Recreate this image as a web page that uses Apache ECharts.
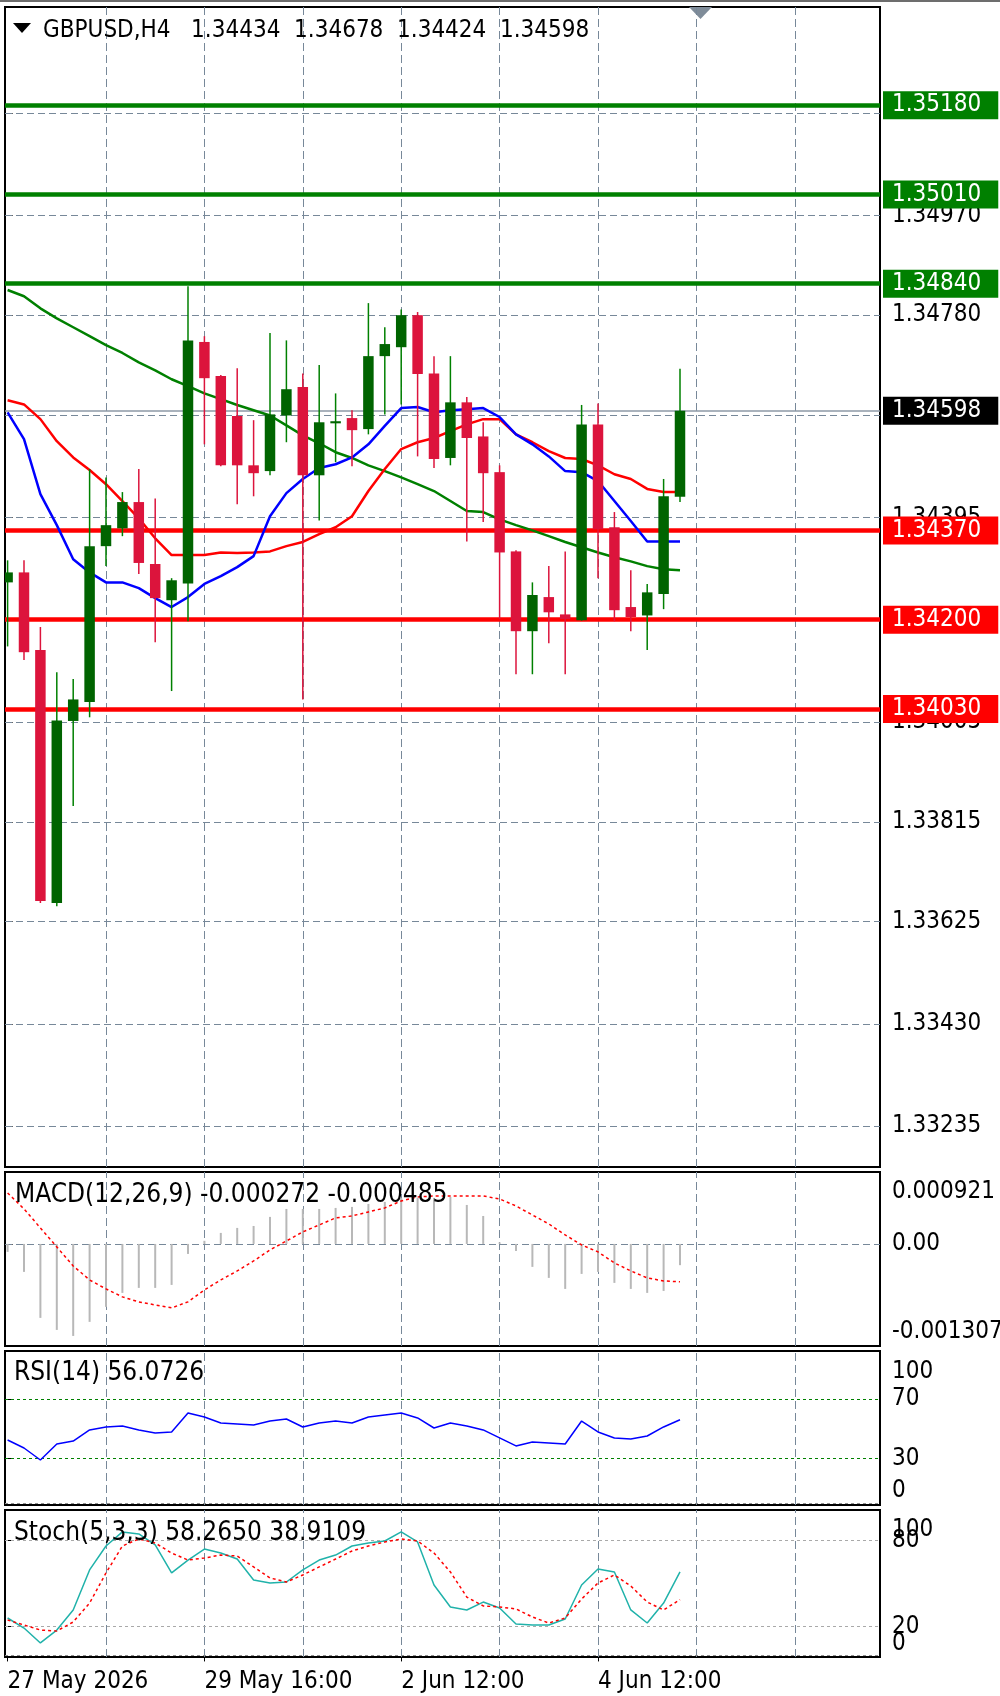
<!DOCTYPE html>
<html>
<head>
<meta charset="utf-8">
<title>GBPUSD,H4</title>
<script src="https://cdn.jsdelivr.net/npm/echarts@6.0.0/dist/echarts.min.js"></script>
<style>
  html, body { margin: 0; padding: 0; background: #fff; }
  #chart { width: 1000px; height: 1696px; }
</style>
</head>
<body>
<div id="chart"></div>
<script>
const FONT = "'DejaVu Sans Condensed', 'Liberation Sans', sans-serif";

// H4 bars, index 0 = 27 May 2026 16:00
const opens  = [1.34271, 1.34290, 1.34142, 1.33660, 1.34007, 1.34043, 1.34340, 1.34374, 1.34424, 1.34306,
                1.34237, 1.34269, 1.34729, 1.34664, 1.34588, 1.34494, 1.34483, 1.34589, 1.34643, 1.34475,
                1.34574, 1.34584, 1.34563, 1.34702, 1.34719, 1.34780, 1.34669, 1.34508, 1.34614, 1.34549,
                1.34481, 1.34330, 1.34178, 1.34243, 1.34210, 1.34199, 1.34572, 1.34376, 1.34224, 1.34208,
                1.34249, 1.34434];
const highs  = [1.34313, 1.34313, 1.34186, 1.34100, 1.34087, 1.34487, 1.34471, 1.34443, 1.34487, 1.34431,
                1.34279, 1.34835, 1.34740, 1.34666, 1.34679, 1.34580, 1.34746, 1.34732, 1.34669, 1.34685,
                1.34631, 1.34599, 1.34803, 1.34757, 1.34791, 1.34786, 1.34702, 1.34702, 1.34624, 1.34576,
                1.34494, 1.34332, 1.34271, 1.34302, 1.34330, 1.34609, 1.34612, 1.34405, 1.34294, 1.34268,
                1.34468, 1.34678];
const lows   = [1.34149, 1.34123, 1.33660, 1.33654, 1.33845, 1.34014, 1.34302, 1.34359, 1.34287, 1.34157,
                1.34064, 1.34197, 1.34534, 1.34492, 1.34420, 1.34435, 1.34475, 1.34538, 1.34048, 1.34389,
                1.34500, 1.34492, 1.34553, 1.34591, 1.34610, 1.34511, 1.34489, 1.34494, 1.34349, 1.34386,
                1.34201, 1.34096, 1.34096, 1.34155, 1.34096, 1.34198, 1.34279, 1.34197, 1.34178, 1.34142,
                1.34220, 1.34424];
const closes = [1.34290, 1.34138, 1.33664, 1.34008, 1.34048, 1.34340, 1.34380, 1.34424, 1.34308, 1.34241,
                1.34275, 1.34732, 1.34660, 1.34494, 1.34494, 1.34479, 1.34591, 1.34639, 1.34475, 1.34576,
                1.34578, 1.34561, 1.34702, 1.34725, 1.34780, 1.34668, 1.34506, 1.34614, 1.34546, 1.34479,
                1.34328, 1.34178, 1.34247, 1.34214, 1.34201, 1.34572, 1.34372, 1.34218, 1.34205, 1.34252,
                1.34435, 1.34598];

// moving averages on the price chart
const maFast = [1.34595, 1.34544, 1.34439, 1.34380, 1.34315, 1.34290, 1.34271, 1.34271, 1.34260, 1.34241,
                1.34224, 1.34243, 1.34268, 1.34283, 1.34300, 1.34321, 1.34397, 1.34441, 1.34468, 1.34489,
                1.34496, 1.34509, 1.34534, 1.34569, 1.34603, 1.34605, 1.34595, 1.34599, 1.34601, 1.34603,
                1.34586, 1.34553, 1.34534, 1.34511, 1.34483, 1.34481, 1.34464, 1.34426, 1.34388, 1.34349,
                1.34349, 1.34349];
const maMid  = [1.34618, 1.34610, 1.34582, 1.34540, 1.34509, 1.34485, 1.34458, 1.34426, 1.34393, 1.34355,
                1.34323, 1.34323, 1.34323, 1.34328, 1.34327, 1.34328, 1.34330, 1.34340, 1.34348, 1.34363,
                1.34376, 1.34397, 1.34445, 1.34487, 1.34525, 1.34538, 1.34546, 1.34559, 1.34572, 1.34582,
                1.34582, 1.34553, 1.34538, 1.34521, 1.34508, 1.34506, 1.34494, 1.34477, 1.34468, 1.34449,
                1.34443, 1.34443];
const maSlow = [1.34828, 1.34816, 1.34793, 1.34774, 1.34757, 1.34740, 1.34723, 1.34708, 1.34690, 1.34675,
                1.34658, 1.34645, 1.34631, 1.34620, 1.34609, 1.34599, 1.34589, 1.34570, 1.34551, 1.34536,
                1.34519, 1.34508, 1.34494, 1.34483, 1.34471, 1.34458, 1.34445, 1.34426, 1.34407, 1.34405,
                1.34391, 1.34380, 1.34370, 1.34359, 1.34348, 1.34338, 1.34328, 1.34319, 1.34311, 1.34302,
                1.34296, 1.34294];

const macdHist   = [-0.000102, -0.000358, -0.000947, -0.001101, -0.001178, -0.000998, -0.000806, -0.000627, -0.000563, -0.000563,
                    -0.000525, -0.000128, 0.000040, 0.000141, 0.000205, 0.000230, 0.000346, 0.000448, 0.000448, 0.000448,
                    0.000461, 0.000474, 0.000512, 0.000538, 0.000589, 0.000589, 0.000589, 0.000602, 0.000499, 0.000358,
                    0.000020, -0.000090, -0.000294, -0.000435, -0.000576, -0.000384, -0.000358, -0.000499, -0.000576, -0.000627,
                    -0.000602, -0.000272];
const macdSignal = [0.000653, 0.000448, 0.000205, -0.000038, -0.000282, -0.000461, -0.000576, -0.000678, -0.000742, -0.000781,
                    -0.000819, -0.000742, -0.000589, -0.000461, -0.000346, -0.000218, -0.000077, 0.000038, 0.000154, 0.000243,
                    0.000333, 0.000358, 0.000410, 0.000461, 0.000550, 0.000602, 0.000614, 0.000614, 0.000614, 0.000614,
                    0.000576, 0.000486, 0.000371, 0.000256, 0.000115, -0.000013, -0.000102, -0.000243, -0.000346, -0.000435,
                    -0.000474, -0.000485];
const rsiValues  = [42.4, 37.0, 28.9, 39.7, 41.7, 49.2, 51.2, 51.9, 49.2, 47.1,
                    47.8, 60.6, 57.9, 53.9, 53.2, 52.5, 55.2, 56.6, 51.2, 53.9,
                    55.2, 53.9, 57.9, 59.3, 60.6, 57.3, 50.5, 53.9, 51.9, 49.2,
                    43.8, 38.4, 41.1, 40.4, 39.7, 55.2, 47.8, 43.8, 43.1, 45.1,
                    51.2, 56.0726];
const stochMain   = [26.1, 19.1, 8.7, 17.7, 31.7, 59.6, 76.3, 86.1, 84.7, 77.0,
                     57.5, 66.5, 74.2, 71.4, 67.2, 52.6, 50.5, 51.2, 59.6, 66.5,
                     70.0, 76.3, 78.4, 79.8, 86.1, 79.1, 49.1, 33.8, 31.7, 37.2,
                     33.1, 21.9, 21.2, 21.2, 25.4, 49.1, 60.3, 58.2, 31.7, 22.6,
                     36.5, 58.265];
const stochSignal = [24.7, 21.2, 17.7, 17.0, 23.3, 36.5, 57.5, 76.3, 81.2, 78.4,
                     71.4, 66.5, 67.9, 70.0, 69.3, 61.7, 54.0, 51.2, 56.1, 61.7,
                     67.2, 72.8, 76.3, 79.1, 81.2, 79.8, 71.4, 58.2, 40.7, 34.5,
                     33.8, 32.4, 26.8, 22.6, 26.1, 39.3, 50.5, 56.1, 48.4, 37.2,
                     31.7, 38.9109];

const resistanceLevels = [1.35180, 1.35010, 1.34840];
const supportLevels    = [1.34370, 1.34200, 1.34030];
const lastPrice = 1.34598;

const priceTicks = [1.35165, 1.34970, 1.34780, 1.34590, 1.34395, 1.34200, 1.34005, 1.33815, 1.33625, 1.33430, 1.33235];
const macdTicks  = { mid: [0], top: [0.000921], bottom: [-0.001307] };
const rsiTicks   = { mid: [70, 30], top: [100], bottom: [0] };
const stochTicks = { mid: [80, 20], top: [100], bottom: [0] };
const dayLines   = [6, 12, 18, 24, 30, 36, 42, 48];
const timeTicks  = [0, 12, 24, 36];
const timeLabels = ['27 May 2026', '29 May 16:00', '2 Jun 12:00', '4 Jun 12:00'];

const X_MIN = -0.1585, X_MAX = 53.195;
const GRID_COLOR = '#778899';
const last = arr => arr[arr.length - 1];
const pairs = arr => arr.map((v, i) => [i, v]);

const chart = echarts.init(document.getElementById('chart'), null, { renderer: 'canvas' });

const gridBase = { left: 5, width: 875, show: true, borderColor: '#000', borderWidth: 2,
  backgroundColor: '#fff', containLabel: false, outerBoundsMode: 'none' };

const textBase = { color: '#000', fontSize: 24, fontFamily: FONT, fontWeight: 'normal' };
const subTitleText = Object.assign({}, textBase, { fontSize: 26 });

function xAxisFor(g, extra) {
  return Object.assign({ type: 'value', gridIndex: g, min: X_MIN, max: X_MAX, show: false,
    splitLine: { show: false } }, extra || {});
}

// three overlapping axes per sub window: centred labels, a top-aligned max label, a bottom-aligned min label
function panelAxes(g, min, max, ticks, fmt, padTop, padBottom) {
  const base = { type: 'value', gridIndex: g, position: 'right', min: min, max: max,
    axisLine: { show: false }, splitLine: { show: false } };
  return [
    Object.assign({}, base, {
      axisTick: { show: true, customValues: ticks.mid, length: 5, lineStyle: { color: '#000' } },
      axisLabel: Object.assign({ customValues: ticks.mid, formatter: fmt, margin: 12, padding: [4, 0, 0, 0] }, textBase)
    }),
    Object.assign({}, base, {
      axisTick: { show: false },
      axisLabel: Object.assign({ customValues: ticks.top, formatter: fmt, margin: 12,
        verticalAlign: 'top', padding: [padTop, 0, 0, 0] }, textBase)
    }),
    Object.assign({}, base, {
      axisTick: { show: false },
      axisLabel: Object.assign({ customValues: ticks.bottom, formatter: fmt, margin: 12,
        verticalAlign: 'bottom', padding: [0, 0, padBottom, 0] }, textBase)
    })
  ];
}

function gridLines(xi, yi, extra) {
  const vertical = dayLines.map(x => ({ xAxis: x }));
  return {
    type: 'line', xAxisIndex: xi, yAxisIndex: yi, data: [], silent: true,
    markLine: {
      silent: true, z: 1, precision: 6, symbol: ['none', 'none'], label: { show: false },
      lineStyle: { color: GRID_COLOR, type: [8, 4], width: 1 },
      emphasis: { disabled: true },
      data: vertical.concat(extra || [])
    }
  };
}

function renderCandle(params, api) {
  const i = api.value(0);
  const open = api.value(1), close = api.value(2);
  const lo = api.coord([i, api.value(3)]);
  const hi = api.coord([i, api.value(4)]);
  const po = api.coord([i, open]);
  const pc = api.coord([i, close]);
  const bodyW = api.size([1, 0])[0] * 0.64;
  const up = close >= open;
  const top = Math.min(po[1], pc[1]);
  const h = Math.max(Math.abs(po[1] - pc[1]), 1.5);
  return {
    type: 'group',
    children: [
      { type: 'line', shape: { x1: hi[0], y1: hi[1], x2: lo[0], y2: lo[1] },
        style: { stroke: up ? '#008000' : '#dc143c', lineWidth: 1.5 } },
      { type: 'rect', shape: { x: po[0] - bodyW / 2, y: top, width: bodyW, height: h },
        style: { fill: up ? '#006400' : '#dc143c' } }
    ]
  };
}

const levelData = resistanceLevels.map(v => ({ yAxis: v, lineStyle: { color: '#008000', width: 4.5 }, label: { backgroundColor: '#008000' } }))
  .concat(supportLevels.map(v => ({ yAxis: v, lineStyle: { color: '#ff0000', width: 4.5 }, label: { backgroundColor: '#ff0000' } })))
  .concat([{ yAxis: lastPrice, lineStyle: { color: '#8d99a6', width: 1.5 }, label: { backgroundColor: '#000' } }]);

const dashed = (value, color, type) => ({ yAxis: value, lineStyle: { color: color, type: type } });

const option = {
  animation: false,
  backgroundColor: '#fff',
  textStyle: { fontFamily: FONT },
  title: [
    { text: 'GBPUSD,H4   ' + [last(opens), last(highs), last(lows), last(closes)].map(v => v.toFixed(5)).join('  '),
      left: 43, top: 19, padding: 0, textStyle: textBase },
    { text: 'MACD(12,26,9) ' + last(macdHist).toFixed(6) + ' ' + last(macdSignal).toFixed(6),
      left: 15, top: 1182, padding: 0, textStyle: subTitleText },
    { text: 'RSI(14) ' + last(rsiValues).toFixed(4), left: 14, top: 1360, padding: 0, textStyle: subTitleText },
    { text: 'Stoch(5,3,3) ' + last(stochMain).toFixed(4) + ' ' + last(stochSignal).toFixed(4),
      left: 14, top: 1520, padding: 0, textStyle: subTitleText }
  ],
  graphic: [
    { type: 'rect', left: 0, top: 0, shape: { width: 1000, height: 2 }, style: { fill: '#6d6d6d' }, silent: true },
    { type: 'polygon', shape: { points: [[13, 23], [31, 23], [22, 33]] }, style: { fill: '#000' }, silent: true },
    { type: 'polygon', shape: { points: [[689, 7], [712, 7], [700.5, 19]] }, style: { fill: '#7f8c99' }, silent: true }
  ],
  grid: [
    Object.assign({ top: 7, height: 1160 }, gridBase),
    Object.assign({ top: 1172, height: 174 }, gridBase),
    Object.assign({ top: 1351, height: 154 }, gridBase),
    Object.assign({ top: 1510, height: 147 }, gridBase)
  ],
  xAxis: [
    xAxisFor(0), xAxisFor(1), xAxisFor(2),
    xAxisFor(3, {
      show: true,
      axisLine: { show: false },
      axisTick: { show: true, customValues: timeTicks, length: 6, lineStyle: { color: '#000' } },
      axisLabel: Object.assign({ customValues: timeTicks, align: 'left', margin: 13,
        formatter: v => timeLabels[timeTicks.indexOf(v)] }, textBase)
    })
  ],
  yAxis: [
    {
      type: 'value', gridIndex: 0, position: 'right', min: 1.331573, max: 1.353671,
      axisLine: { show: false }, splitLine: { show: false },
      axisTick: { show: true, customValues: priceTicks, length: 5, lineStyle: { color: '#000' } },
      axisLabel: Object.assign({ customValues: priceTicks, formatter: v => v.toFixed(5), margin: 12,
        padding: [4, 0, 0, 0] }, textBase)
    }
  ].concat(
    panelAxes(1, -0.001307, 0.000921, macdTicks, v => (v === 0 ? '0.00' : v.toFixed(6)), 8, 2),
    panelAxes(2, -1.5, 102.5, rsiTicks, v => String(v), 5, 0),
    panelAxes(3, -1.1, 101.4, stochTicks, v => String(v), 6, 0)
  ),
  series: [
    gridLines(0, 0, priceTicks.map(v => ({ yAxis: v, lineStyle: { type: [7, 4] } }))),
    {
      type: 'line', xAxisIndex: 0, yAxisIndex: 0, data: [], silent: true,
      markLine: {
        silent: true, z: 2, precision: 6, symbol: ['none', 'none'],
        emphasis: { disabled: true },
        lineStyle: { type: 'solid' },
        label: Object.assign({ show: true, position: 'end', distance: 3,
          formatter: p => Number(p.value).toFixed(5), padding: [3, 17, 1, 9] }, textBase, { color: '#fff' }),
        data: levelData
      }
    },
    { name: 'MA slow', type: 'line', xAxisIndex: 0, yAxisIndex: 0, z: 3, data: pairs(maSlow),
      symbol: 'none', silent: true, lineStyle: { color: '#008000', width: 2.5 } },
    { name: 'MA mid', type: 'line', xAxisIndex: 0, yAxisIndex: 0, z: 3, data: pairs(maMid),
      symbol: 'none', silent: true, lineStyle: { color: '#ff0000', width: 2.5 } },
    { name: 'MA fast', type: 'line', xAxisIndex: 0, yAxisIndex: 0, z: 3, data: pairs(maFast),
      symbol: 'none', silent: true, lineStyle: { color: '#0000ff', width: 2.5 } },
    {
      name: 'GBPUSD', type: 'custom', xAxisIndex: 0, yAxisIndex: 0, z: 4, clip: true, silent: true,
      renderItem: renderCandle,
      encode: { x: 0, y: [1, 2, 3, 4] },
      data: opens.map((o, i) => [i, o, closes[i], lows[i], highs[i]])
    },

    gridLines(1, 1, [dashed(0, GRID_COLOR, [7, 4])]),
    { name: 'MACD', type: 'bar', xAxisIndex: 1, yAxisIndex: 1, data: pairs(macdHist), barWidth: 2,
      silent: true, itemStyle: { color: '#b8b8b8' } },
    { name: 'Signal', type: 'line', xAxisIndex: 1, yAxisIndex: 1, data: pairs(macdSignal), symbol: 'none',
      silent: true, lineStyle: { color: '#ff0000', width: 1.5, type: [3, 3] } },

    gridLines(2, 4, [dashed(70, '#008000', [3, 3]), dashed(30, '#008000', [3, 3]), dashed(0, '#909090', [3, 3])]),
    { name: 'RSI', type: 'line', xAxisIndex: 2, yAxisIndex: 4, data: pairs(rsiValues), symbol: 'none',
      silent: true, lineStyle: { color: '#0000ff', width: 1.5 } },

    gridLines(3, 7, [dashed(80, '#a9a9a9', [3, 3]), dashed(20, '#a9a9a9', [3, 3]), dashed(0, '#909090', [3, 3])]),
    { name: 'Stoch', type: 'line', xAxisIndex: 3, yAxisIndex: 7, data: pairs(stochMain), symbol: 'none',
      silent: true, lineStyle: { color: '#20b2aa', width: 1.5 } },
    { name: 'Stoch signal', type: 'line', xAxisIndex: 3, yAxisIndex: 7, data: pairs(stochSignal), symbol: 'none',
      silent: true, lineStyle: { color: '#ff0000', width: 1.5, type: [3, 3] } }
  ]
};

chart.setOption(option);
</script>
</body>
</html>
